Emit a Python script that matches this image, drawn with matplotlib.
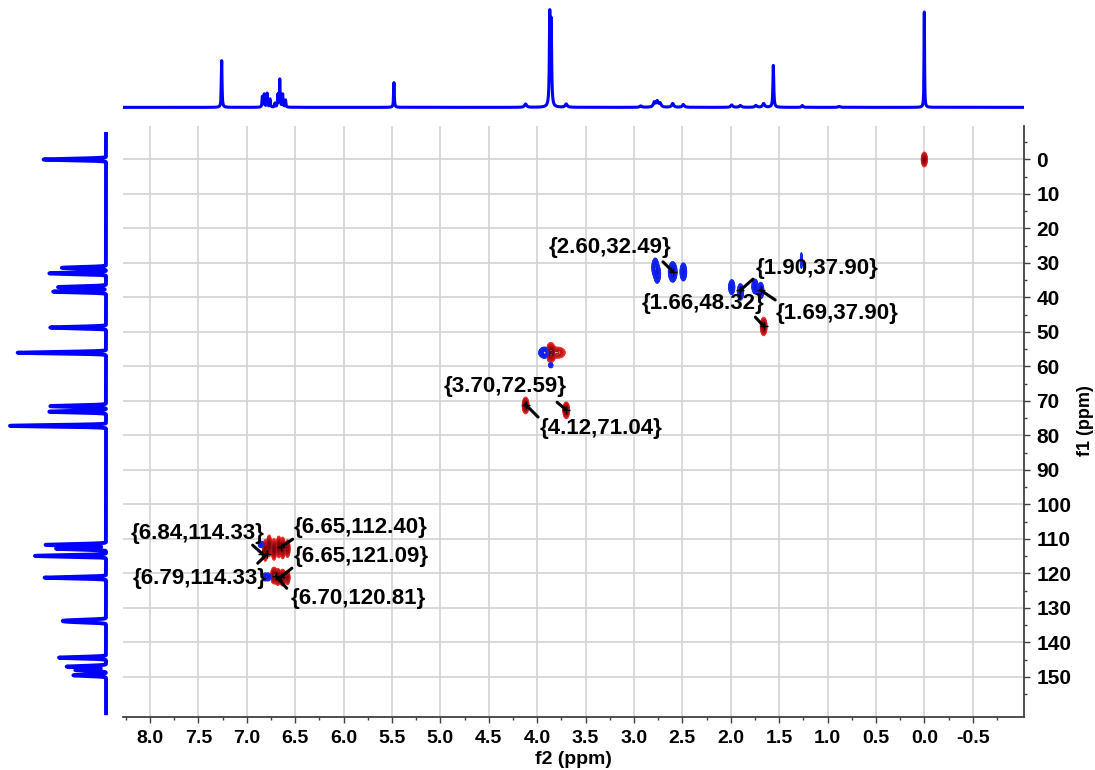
import numpy as np
import matplotlib
matplotlib.use("Agg")
import matplotlib.pyplot as plt
from matplotlib.ticker import FixedLocator

plt.rcParams['font.family'] = ['Liberation Sans', 'DejaVu Sans']
plt.rcParams['font.weight'] = 'bold'

# --- 1H projection (top trace): shift (ppm), relative height, half width (ppm)
H_SHIFT = [7.26, 6.84, 6.82, 6.79, 6.76, 6.71, 6.68, 6.66, 6.63, 6.60,
           5.48, 4.12, 3.87, 3.855, 3.70, 2.93, 2.79, 2.76, 2.73, 2.60,
           2.49, 1.99, 1.90, 1.74, 1.66, 1.56, 1.26, 0.88, 0.00]
H_HEIGHT = [0.49, 0.11, 0.135, 0.145, 0.085, 0.04, 0.13, 0.29, 0.135, 0.075,
            0.26, 0.035, 0.94, 0.85, 0.035, 0.015, 0.05, 0.06, 0.04, 0.04,
            0.03, 0.025, 0.02, 0.02, 0.04, 0.44, 0.02, 0.01, 1.0]
H_HW = [0.004, 0.004, 0.004, 0.004, 0.004, 0.004, 0.004, 0.004, 0.004, 0.004,
        0.004, 0.012, 0.005, 0.005, 0.012, 0.012, 0.012, 0.012, 0.012, 0.012,
        0.012, 0.012, 0.012, 0.012, 0.012, 0.005, 0.008, 0.012, 0.003]

# --- 13C projection (left trace)
C_SHIFT = [0.0, 31.4, 33.0, 37.0, 38.3, 48.7, 56.0, 71.5, 73.1, 77.2,
           111.7, 112.8, 114.9, 121.2, 133.6, 134.0, 144.4, 147.0, 148.0, 149.5]
C_HEIGHT = [0.65, 0.46, 0.59, 0.50, 0.55, 0.58, 0.92, 0.58, 0.59, 1.0,
            0.63, 0.52, 0.74, 0.64, 0.35, 0.33, 0.49, 0.41, 0.32, 0.34]

# --- HSQC cross peaks: f2, f1, signed amplitude, sigma f2, sigma f1
X_F2 = [0.00, 2.78, 2.76, 2.60, 2.49, 1.99, 1.90, 1.75, 1.69, 1.27,
        1.66, 3.86, 3.79, 3.92, 3.86, 4.12, 3.70,
        6.81, 6.77, 6.72, 6.67, 6.63, 6.58, 6.85,
        6.72, 6.68, 6.63, 6.58, 6.81, 6.78]
X_F1 = [0.0, 31.3, 33.2, 32.6, 32.6, 37.0, 38.4, 36.8, 38.0, 29.3,
        48.4, 56.0, 56.0, 56.0, 59.6, 71.3, 72.7,
        113.3, 112.0, 113.0, 112.3, 112.6, 112.8, 111.6,
        120.6, 121.0, 121.2, 121.2, 121.0, 121.0]
X_AMP = [0.8, -1.0, -0.9, -1.0, -0.8, -0.8, -0.8, -0.8, -0.8, -0.3,
         0.9, 1.0, 0.35, -0.7, -0.5, 0.9, 0.9,
         0.9, 0.9, 0.9, 0.9, 0.9, 0.7, -0.6,
         0.9, 0.9, 0.9, 0.6, -0.6, -0.6]
X_S2 = [0.013, 0.014, 0.014, 0.018, 0.014, 0.013, 0.013, 0.013, 0.013, 0.005,
        0.014, 0.02, 0.04, 0.028, 0.01, 0.014, 0.014,
        0.011, 0.011, 0.011, 0.011, 0.011, 0.011, 0.014,
        0.014, 0.014, 0.014, 0.011, 0.011, 0.011]
X_S1 = [0.9, 1.1, 1.1, 1.2, 1.1, 0.9, 1.0, 0.9, 1.0, 1.2,
        1.1, 1.2, 0.8, 0.7, 0.35, 1.0, 1.0,
        1.3, 1.3, 1.3, 1.3, 1.3, 1.1, 0.4,
        1.0, 1.0, 1.0, 0.9, 0.5, 0.5]

# --- picked peaks with labels
LBL_F2 = [2.60, 1.90, 1.66, 1.69, 3.70, 4.12, 6.84, 6.79, 6.65, 6.65, 6.70]
LBL_F1 = [32.49, 37.90, 48.32, 37.90, 72.59, 71.04, 114.33, 114.33, 112.40, 121.09, 120.81]

# label placement (offset points from the peak)
TXT_OFF = [(-45, 17), (55, 16), (-44, 16), (55, -16.5), (-44, 17), (54, -17),
           (-46.5, 15), (-49, -17.5), (57.6, 14.5), (57.6, 15.2), (59, -15.8)]
LINE_OFF = [(-7, 7), (9, 8), (-6, 6.5), (10.4, -7), (-6.6, 5.5), (9, -9),
            (-7, 6.3), (-6.8, -6.7), (8.6, 5.8), (8, 6.5), (7.8, -8.6)]

F2_LIM = (8.28, -1.03)
F1_LIM = (161.6, -9.7)


def lorentz(axis, centers, heights, hws):
    y = np.zeros_like(axis)
    for c, h, w in zip(centers, heights, hws):
        y += h * w**2 / ((axis - c)**2 + w**2)
    return y


def gauss(axis, centers, heights, sig):
    y = np.zeros_like(axis)
    for c, h in zip(centers, heights):
        y += h * np.exp(-0.5 * ((axis - c) / sig)**2)
    return y


fig = plt.figure(figsize=(10.95, 7.7), dpi=100)
ax = fig.add_axes([0.11233, 0.06883, 0.82283, 0.76753])
ax_top = fig.add_axes([0.11233, 0.8571, 0.82283, 0.1325])
ax_left = fig.add_axes([0.0, 0.06883, 0.1023, 0.76753])

# top 1H trace
h_axis = np.linspace(F2_LIM[1], F2_LIM[0], 30000)
ax_top.plot(h_axis, lorentz(h_axis, H_SHIFT, H_HEIGHT, H_HW), color='#0000FF', lw=2.2)
ax_top.set_xlim(F2_LIM)
ax_top.set_ylim(-0.028, 1.042)
ax_top.axis('off')

# left 13C trace
c_axis = np.linspace(-7.4, 160.5, 12000)
ax_left.plot(gauss(c_axis, C_SHIFT, C_HEIGHT, 0.22), c_axis, color='#0000FF', lw=2.8)
ax_left.set_xlim(1.104, -0.0625)
ax_left.set_ylim(F1_LIM)
ax_left.axis('off')

# HSQC contours
g2 = np.linspace(F2_LIM[1], F2_LIM[0], 2600)
g1 = np.linspace(-10, 162, 1100)
G2, G1 = np.meshgrid(g2, g1)
Z = np.zeros_like(G2)
for f2, f1, a, s2, s1 in zip(X_F2, X_F1, X_AMP, X_S2, X_S1):
    Z += a * np.exp(-0.5 * ((G2 - f2) / s2)**2 - 0.5 * ((G1 - f1) / s1)**2)

pos_levels = list(np.geomspace(0.05, 0.95, 12))
neg_levels = [-l for l in pos_levels[::-1]]
reds = plt.cm.Reds(np.linspace(0.6, 1.0, len(pos_levels)))
blues = plt.cm.Blues(np.linspace(1.0, 0.6, len(pos_levels)))
blues[:, :3] = blues[:, :3] * 0.2 + np.array([0.05, 0.05, 1.0]) * 0.8
ax.contourf(G2, G1, Z, levels=[pos_levels[0], 5], colors=['#E05050'], alpha=0.35)
ax.contourf(G2, G1, Z, levels=[-5, neg_levels[-1]], colors=['#5050FF'], alpha=0.35)
ax.contour(G2, G1, Z, levels=pos_levels, colors=reds, linewidths=0.9)
ax.contour(G2, G1, Z, levels=neg_levels, colors=blues, linewidths=0.9)

# peak labels
for f2, f1, (tx, ty), (lx, ly) in zip(LBL_F2, LBL_F1, TXT_OFF, LINE_OFF):
    ax.plot(f2, f1, marker='+', color='black', ms=6, mew=1, zorder=4)
    ax.annotate('', xy=(f2, f1), xytext=(lx, ly), textcoords='offset points',
                arrowprops=dict(arrowstyle='-', lw=2.2, color='black',
                                shrinkA=0, shrinkB=0))
    ax.annotate('{%.2f,%.2f}' % (f2, f1), xy=(f2, f1), xytext=(tx, ty),
                textcoords='offset points', ha='center', va='center',
                fontsize=16, fontweight='bold', color='black')

ax.set_xlim(F2_LIM)
ax.set_ylim(F1_LIM)
ax.xaxis.set_major_locator(FixedLocator(np.arange(-0.5, 8.01, 0.5)))
ax.xaxis.set_minor_locator(FixedLocator(np.arange(-0.75, 8.3, 0.5)))
ax.yaxis.set_major_locator(FixedLocator(np.arange(0, 151, 10)))
ax.yaxis.set_minor_locator(FixedLocator(np.arange(-5, 161, 10)))
ax.xaxis.set_major_formatter(plt.FuncFormatter(lambda v, p: '%.1f' % v))
ax.yaxis.tick_right()
ax.grid(True, which='major', color='#D3D3D3', lw=1.2)
ax.set_axisbelow(True)
for side in ('top', 'left'):
    ax.spines[side].set_visible(False)
for side in ('bottom', 'right'):
    ax.spines[side].set_color('#404040')
    ax.spines[side].set_linewidth(1.3)
ax.tick_params(which='major', length=4, width=1, color='#404040', pad=5)
ax.tick_params(which='minor', length=2.5, width=1, color='#404040')
ax.tick_params(axis='x', labelsize=14)
ax.tick_params(axis='y', labelsize=15)
for lab in ax.get_xticklabels() + ax.get_yticklabels():
    lab.set_fontweight('bold')
ax.set_xlabel('f2 (ppm)', fontsize=14, fontweight='bold', labelpad=3)
fig.text(0.9915, 0.4532, 'f1 (ppm)', rotation=90, ha='center', va='center',
         fontsize=13, fontweight='bold')

fig.savefig('out.png', dpi=100)
